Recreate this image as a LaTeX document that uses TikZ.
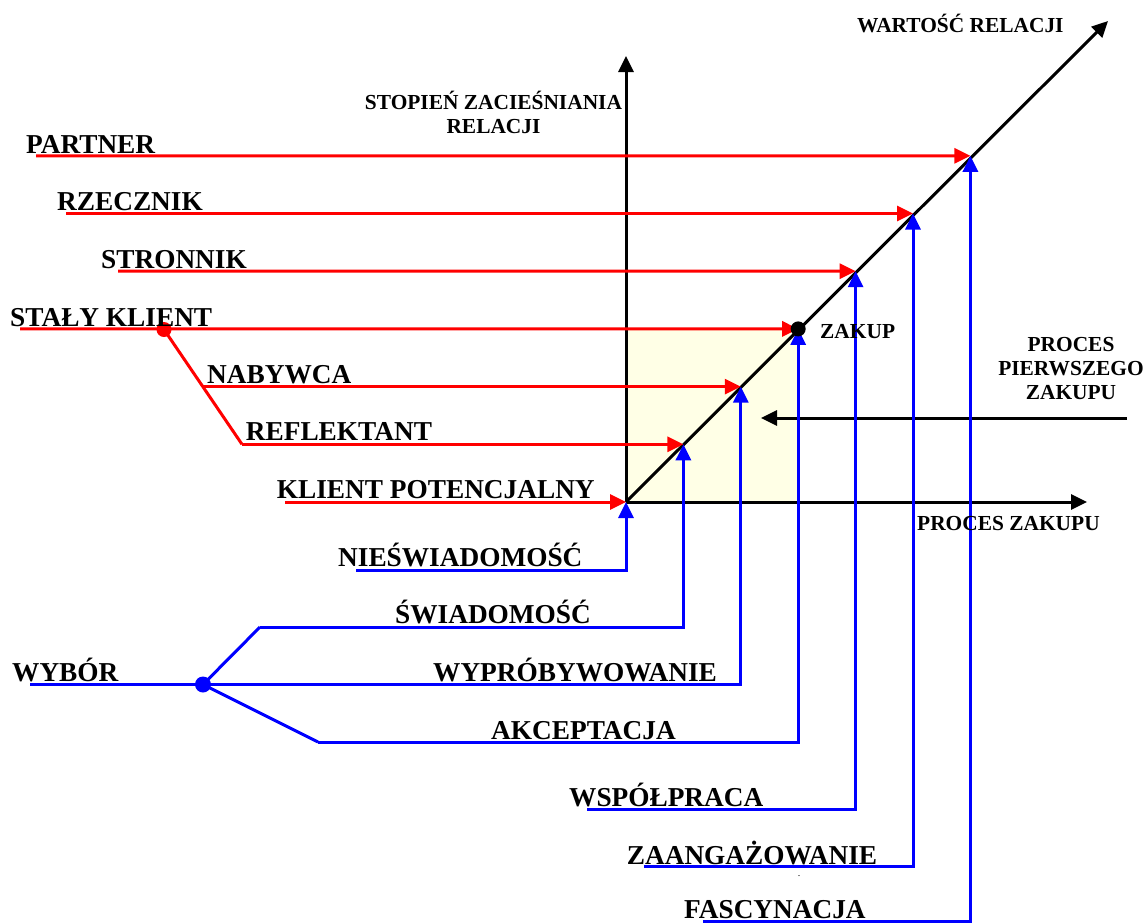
\documentclass[tikz,border=0pt]{standalone}
\usepackage{fontspec}
\setmainfont{Liberation Serif}
\usetikzlibrary{arrows.meta}
\definecolor{cream}{RGB}{255,255,230}
\begin{document}
\begin{tikzpicture}[x=1pt,y=-1pt,
  big/.style={font=\bfseries\fontsize{27.3}{30}\selectfont, inner sep=0pt, anchor=base west},
  small/.style={font=\bfseries\fontsize{21.4}{24}\selectfont, inner sep=0pt},
  tip/.style={-{Triangle[length=16pt,width=15pt]}},
  axis/.style={draw=black, line width=3pt, tip},
  redline/.style={draw=red, line width=3pt},
  blueline/.style={draw=blue, line width=3pt},
]
\useasboundingbox (0,0) rectangle (1144,924);

% points on the diagonal (45 degrees)
\foreach \k in {0,...,6}
  \coordinate (p\k) at ({626+57.4*\k},{502-57.7*\k});

% first purchase area
\fill[cream] (p0) rectangle (p3);

% axes
\coordinate (vtip) at (626,56);
\coordinate (htip) at (1087,502);
\coordinate (dtip) at (1108,21);
\draw[axis] (p0) -- (vtip);
\draw[axis] (p0) -- (htip);
\draw[axis] (p0) -- (dtip);
\coordinate (fs) at (1127,418);
\coordinate (fe) at (761,418);
\draw[axis] (fs) -- (fe);

% relation levels (red)
\coordinate (rs6) at (36,155.8);
\coordinate (rs5) at (66,213.5);
\coordinate (rs4) at (118,271.2);
\coordinate (rs3) at (20,328.9);
\coordinate (rs2) at (203,386.6);
\coordinate (rs1) at (242,444.3);
\coordinate (rs0) at (285,502);
\coordinate (redhub) at (164,329.5);
\foreach \k in {0,...,6}
  \draw[redline, tip] (rs\k) -- (p\k);
\draw[redline] (redhub) -- (rs1);
\fill[red] (redhub) circle (7.5);

% stages (blue)
\coordinate (bs0) at (356,570);
\coordinate (bs1) at (260,627);
\coordinate (bs2) at (30,684.5);
\coordinate (bs3) at (318,742);
\coordinate (bs4) at (587,809);
\coordinate (bs5) at (644,866.5);
\coordinate (bs6) at (703,921.5);
\coordinate (bluehub) at (203,684.5);
\foreach \k in {0,...,6}
  \draw[blueline, tip] (bs\k) -| (p\k);
\draw[blueline] (bluehub) -- (bs1);
\draw[blueline] (bluehub) -- (bs3);
\fill[blue] (bluehub) circle (8);

% purchase point
\fill[black] (p3) circle (7.5);

% labels
\node[big] (partner) at (26,153) {PARTNER};
\node[big] (rzecznik) at (57,210.7) {RZECZNIK};
\node[big] (stronnik) at (101,268) {STRONNIK};
\node[big] (staly) at (10,326.7) {STAŁY KLIENT};
\node[big] (nabywca) at (207,383) {NABYWCA};
\node[big] (reflektant) at (245.7,440.7) {REFLEKTANT};
\node[big] (potencjalny) at (276.7,498) {KLIENT POTENCJALNY};
\node[big] (nieswiad) at (338,566.7) {NIEŚWIADOMOŚĆ};
\node[big] (swiad) at (395,623) {ŚWIADOMOŚĆ};
\node[big] (wybor) at (12,681.7) {WYBÓR};
\node[big] (wyprob) at (433,681.7) {WYPRÓBYWOWANIE};
\node[big] (akcept) at (491,739) {AKCEPTACJA};
\node[big] (wspolpr) at (569,806.7) {WSPÓŁPRACA};
\node[big] (zaang) at (626.7,864) {ZAANGAŻOWANIE};
\node[big] (fascyn) at (684,918.5) {FASCYNACJA};

\node[small, anchor=base west] (wartosc) at (857,32) {WARTOŚĆ RELACJI};
\node[small, align=center, anchor=north] (stopien) at (493.5,91) {STOPIEŃ ZACIEŚNIANIA\\RELACJI};
\node[small, anchor=base west] (zakup) at (820,338) {ZAKUP};
\node[small, align=center, anchor=north] (pierwszy) at (1071,337) {PROCES\\PIERWSZEGO\\ZAKUPU};
\node[small, anchor=base west] (proceszak) at (917,530) {PROCES ZAKUPU};
\node[font=\fontsize{10}{10}\selectfont, inner sep=0pt] (kropka) at (799,876) {.};
\end{tikzpicture}
\end{document}
